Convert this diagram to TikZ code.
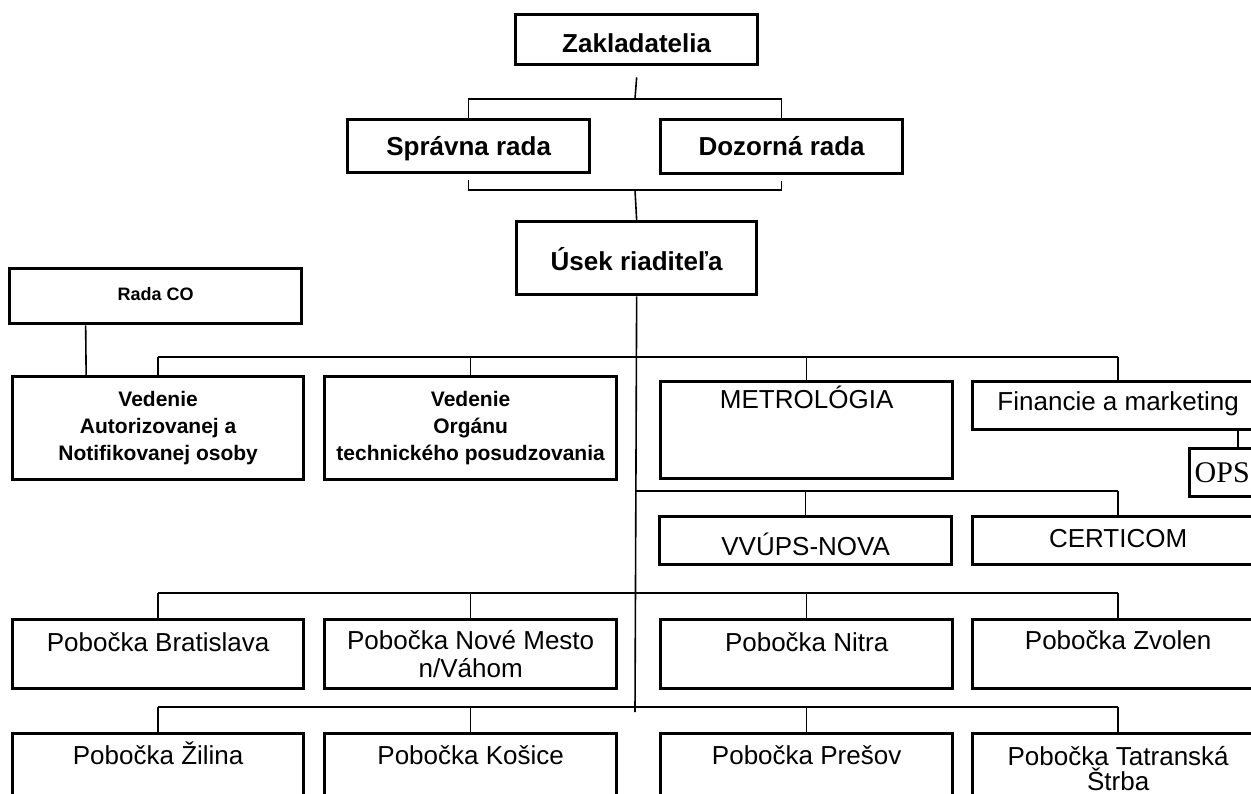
\documentclass[tikz,border=0pt]{standalone}
\usepackage{fontspec}
\setmainfont{Liberation Sans}
\newfontfamily\opsfont{Liberation Serif}
\begin{document}
\begin{tikzpicture}[x=1pt, y=-1pt,
  unit/.style = {draw, line width=3.3pt, anchor=north west, inner sep=0pt,
    align=center, font=\fontsize{26}{28}\selectfont},
  head/.style = {unit, font=\bfseries\fontsize{26}{28}\selectfont},
  lead/.style = {unit, font=\bfseries\fontsize{21}{27}\selectfont},
  dims/.style 2 args = {minimum width=#1pt, minimum height=#2pt},
  topline/.style 2 args = {text height=#1pt, text depth=#2pt},
  wire/.style = {line width=1.6pt},
  bus/.style = {line width=2.6pt}]
  \clip (0,0) rectangle (1251,794);

  \node[head, dims={242}{50}, topline={38}{12}] (zak) at (514,13) {Zakladatelia};
  \node[head, dims={242}{53}, topline={36}{17}] (sprav) at (346,118) {Správna rada};
  \node[head, dims={242}{54}, topline={36}{18}] (dozor) at (659,118) {Dozorná rada};
  \node[head, dims={240}{73}, topline={49}{24}] (usek) at (515,220) {Úsek riaditeľa};
  \node[unit, dims={292}{55}, topline={32}{23}, font=\bfseries\fontsize{18}{20}\selectfont] (radaco) at (8,267) {Rada CO};

  \node[lead, dims={291}{103}] (vedA) at (11,375) {Vedenie\\Autorizovanej a\\Notifikovanej osoby};
  \node[lead, dims={292}{103}] (vedO) at (323,375) {Vedenie\\Orgánu\\technického posudzovania};
  \node[unit, dims={292}{97}, topline={27}{70}] (metro) at (659,380) {METROLÓGIA};
  \node[unit, dims={291}{48}, topline={29}{19}] (fin) at (971,380) {Financie a marketing};
  \node[unit, minimum height=48pt, inner xsep=5pt, font=\opsfont\fontsize{30}{32}\selectfont] (ops) at (1188,447) {OPS};
  \coordinate (opsj) at ([xshift=120pt]fin.south);

  \node[unit, dims={292}{48}, topline={39}{9}] (vvups) at (658,515) {VVÚPS-NOVA};
  \node[unit, dims={291}{48}, topline={31}{17}] (cert) at (971,515) {CERTICOM};

  \node[unit, dims={291}{69}, topline={32}{37}] (bra) at (11,618) {Pobočka Bratislava};
  \node[unit, dims={292}{69}] (nmv) at (323,618) {Pobočka Nové Mesto\\n/Váhom};
  \node[unit, dims={292}{69}, topline={32}{37}] (nit) at (659,618) {Pobočka Nitra};
  \node[unit, dims={291}{69}, topline={30}{39}] (zvo) at (971,618) {Pobočka Zvolen};

  \node[unit, dims={291}{69}, topline={31}{38}] (zil) at (11,732) {Pobočka Žilina};
  \node[unit, dims={292}{69}, topline={31}{38}] (kos) at (323,732) {Pobočka Košice};
  \node[unit, dims={292}{69}, topline={31}{38}] (pre) at (659,732) {Pobočka Prešov};
  \node[unit, dims={291}{69}] (tat) at (971,732) {Pobočka Tatranská\\[-3pt]Štrba};

  \coordinate (j1) at (635,99);
  \coordinate (j2) at (635,190);
  \coordinate (b1) at (635,357);
  \coordinate (b2) at (635,491);
  \coordinate (b3) at (635,593);
  \coordinate (b4) at (635,707);
  \coordinate (spine) at (635,712);

  \draw[wire] ([yshift=-11pt]zak.south) -- (j1);
  \draw[wire] (sprav.north) |- (j1) -| (dozor.north);
  \draw[wire] ([yshift=-6pt]sprav.south) |- (j2) -| ([yshift=-6pt]dozor.south);
  \draw[wire] (j2) -- (usek.north);
  \draw[wire] (usek.south) -- (spine);
  \draw[wire] ([xshift=-70pt]radaco.south) -- ([xshift=-72pt]vedA.north);
  \draw[wire] (opsj) -- (opsj |- ops.north);

  \draw[bus] (vedA.north |- b1) -- (fin.north |- b1);
  \foreach \n in {vedA, vedO, metro, fin}
    \draw[wire] (\n.north |- b1) -- (\n.north);
  \draw[bus] (b2) -- (cert.north |- b2);
  \foreach \n in {vvups, cert}
    \draw[wire] (\n.north |- b2) -- (\n.north);
  \draw[bus] (bra.north |- b3) -- (zvo.north |- b3);
  \foreach \n in {bra, nmv, nit, zvo}
    \draw[wire] (\n.north |- b3) -- (\n.north);
  \draw[bus] (zil.north |- b4) -- (tat.north |- b4);
  \foreach \n in {zil, kos, pre, tat}
    \draw[wire] (\n.north |- b4) -- (\n.north);
\end{tikzpicture}
\end{document}
